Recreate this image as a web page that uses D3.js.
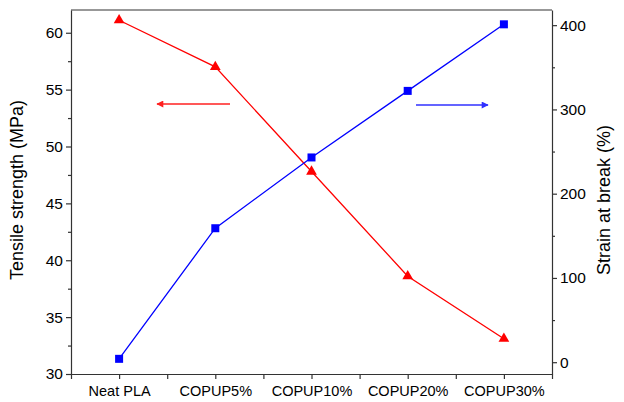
<!DOCTYPE html>
<html><head><meta charset="utf-8">
<script src="https://cdn.jsdelivr.net/npm/d3@7/dist/d3.min.js"></script>
<style>body{margin:0;background:#fff;} text{font-family:"Liberation Sans",Arial,sans-serif;}</style>
</head><body>
<svg id="c" width="624" height="402"></svg>
<script>
const categories = ["Neat PLA","COPUP5%","COPUP10%","COPUP20%","COPUP30%"];
const tensile = [61.1, 57.0, 47.8, 38.6, 33.1];
const strain = [4, 159, 243, 322, 401];
const leftTicks = [30,35,40,45,50,55,60];
const rightTicks = [0,100,200,300,400];

const svg = d3.select("#c");
const L=71, R=552, T=10, B=374;
const x = d3.scaleLinear().domain([-0.5, categories.length-0.5]).range([L,R]);
const yL = d3.scaleLinear().domain([30,62]).range([B,T]);
const yR = d3.scaleLinear().domain([-14,418]).range([B,T]);
const axisColor="#333";

svg.append("line").attr("x1",L).attr("x2",R).attr("y1",T).attr("y2",T).attr("stroke",axisColor).attr("stroke-width",1.2);

function styleAxis(g){
  g.select(".domain").attr("stroke",axisColor).attr("stroke-width",1.2);
  g.selectAll(".tick line").attr("stroke",axisColor).attr("stroke-width",1.2);
  g.selectAll("text").attr("fill","#000");
}
const gL = svg.append("g").attr("transform",`translate(${L},0)`)
  .call(d3.axisLeft(yL).tickValues(leftTicks).tickSize(5).tickSizeOuter(0).tickPadding(3));
gL.selectAll("text").style("font-size","15.5px");
styleAxis(gL);
svg.append("g").attr("transform",`translate(${L},0)`)
  .call(d3.axisLeft(yL).tickValues(d3.range(32.5,62,5)).tickSize(3).tickFormat(""))
  .call(g=>{g.select(".domain").remove();styleAxis(g);});
const gR = svg.append("g").attr("transform",`translate(${R},0)`)
  .call(d3.axisRight(yR).tickValues(rightTicks).tickSize(5).tickSizeOuter(0).tickPadding(3));
gR.selectAll("text").style("font-size","15.5px");
styleAxis(gR);
svg.append("g").attr("transform",`translate(${R},0)`)
  .call(d3.axisRight(yR).tickValues([50,150,250,350]).tickSize(3).tickFormat(""))
  .call(g=>{g.select(".domain").remove();styleAxis(g);});
const gB = svg.append("g").attr("transform",`translate(0,${B})`)
  .call(d3.axisBottom(x).tickValues(d3.range(categories.length)).tickFormat(i=>categories[i]).tickSize(5).tickSizeOuter(0).tickPadding(7));
gB.selectAll("text").style("font-size","14.5px");
styleAxis(gB);
svg.append("g").attr("transform",`translate(0,${B})`)
  .call(d3.axisBottom(x).tickValues(d3.range(-0.5,categories.length,1)).tickSize(5).tickFormat(""))
  .call(g=>{g.select(".domain").remove();styleAxis(g);});

svg.append("text").attr("transform",`translate(23,190) rotate(-90)`).attr("text-anchor","middle")
  .style("font-size","18px").text("Tensile strength (MPa)");
svg.append("text").attr("transform",`translate(610,200) rotate(-90)`).attr("text-anchor","middle")
  .style("font-size","18px").text("Strain at break (%)");

const idx = d3.range(categories.length);
svg.append("path").datum(idx).attr("fill","none").attr("stroke","#ff0000").attr("stroke-width",1.3)
  .attr("d",d3.line().x(i=>x(i)).y(i=>yL(tensile[i])));
svg.append("path").datum(idx).attr("fill","none").attr("stroke","#0000ff").attr("stroke-width",1.3)
  .attr("d",d3.line().x(i=>x(i)).y(i=>yR(strain[i])));
svg.selectAll(".tri").data(idx).enter().append("path")
  .attr("transform",i=>`translate(${x(i)},${yL(tensile[i])})`)
  .attr("d",d3.symbol().type(d3.symbolTriangle).size(50)).attr("fill","#ff0000");
svg.selectAll(".sq").data(idx).enter().append("rect")
  .attr("x",i=>x(i)-4).attr("y",i=>yR(strain[i])-4).attr("width",8).attr("height",8).attr("fill","#0000ff");

const defs = svg.append("defs");
[["ar","#ff2020"],["ab","#3030ff"]].forEach(([id,c])=>{
  defs.append("marker").attr("id",id).attr("viewBox","0 0 10 10").attr("refX",9).attr("refY",5)
    .attr("markerWidth",10).attr("markerHeight",7).attr("markerUnits","userSpaceOnUse").attr("orient","auto")
    .append("path").attr("d","M0,0L10,5L0,10Z").attr("fill",c);
});
svg.append("line").attr("x1",230).attr("x2",157).attr("y1",104).attr("y2",104)
  .attr("stroke","#ff2020").attr("stroke-width",1.5).attr("marker-end","url(#ar)");
svg.append("line").attr("x1",416).attr("x2",488).attr("y1",105).attr("y2",105)
  .attr("stroke","#3030ff").attr("stroke-width",1.5).attr("marker-end","url(#ab)");
</script>
</body></html>
